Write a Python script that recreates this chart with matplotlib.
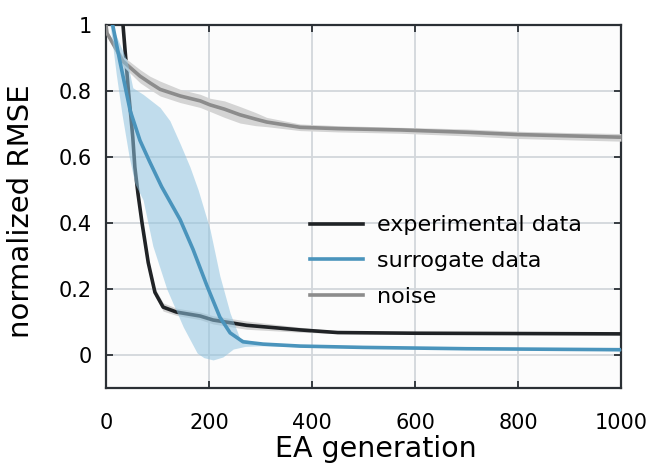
import numpy as np
import matplotlib
matplotlib.use('Agg')
from matplotlib import pyplot as plt

# experimental data (black line + grey spread)
gen_exp  = [25, 33, 43, 52, 56, 62, 70, 82, 95, 111, 137, 183, 208, 273, 377, 450, 600, 800, 1000]
rmse_exp = [1.2, 1.0, 0.81, 0.66, 0.57, 0.49, 0.4, 0.28, 0.19, 0.145, 0.13, 0.118, 0.106, 0.09, 0.076, 0.068, 0.066, 0.065, 0.064]
exp_lo   = [1.19, 0.99, 0.80, 0.65, 0.56, 0.48, 0.39, 0.27, 0.178, 0.133, 0.12, 0.107, 0.094, 0.078, 0.069, 0.065, 0.064, 0.063, 0.062]
exp_hi   = [1.21, 1.01, 0.82, 0.67, 0.58, 0.50, 0.41, 0.29, 0.202, 0.158, 0.142, 0.13, 0.119, 0.103, 0.084, 0.072, 0.068, 0.067, 0.066]

# surrogate data (blue line)
gen_sur  = [5, 13, 27, 47, 66, 85, 108, 144, 169, 196, 221, 241, 266, 305, 377, 500, 700, 1000]
rmse_sur = [1.15, 1.0, 0.89, 0.74, 0.65, 0.585, 0.51, 0.41, 0.32, 0.21, 0.115, 0.067, 0.04, 0.033, 0.027, 0.023, 0.019, 0.016]

# surrogate spread (light blue band)
gen_band_hi = [0, 11, 41, 52, 72, 105, 124, 144, 163, 179, 202, 221, 241, 260, 300, 400, 600, 1000]
sur_hi      = [1.15, 1.0, 0.89, 0.81, 0.79, 0.75, 0.71, 0.64, 0.57, 0.5, 0.38, 0.24, 0.127, 0.05, 0.036, 0.03, 0.025, 0.019]
gen_band_lo = [0, 8, 20, 31, 45, 56, 72, 91, 118, 150, 177, 190, 208, 227, 247, 270, 300, 400, 600, 1000]
sur_lo      = [1.1, 1.0, 0.85, 0.73, 0.6, 0.52, 0.47, 0.33, 0.2, 0.085, 0.006, -0.008, -0.015, -0.006, 0.018, 0.026, 0.028, 0.024, 0.02, 0.013]

# noise (grey line + spread)
gen_noise  = [0, 2, 33, 66, 85, 105, 144, 183, 202, 230, 260, 290, 312, 377, 450, 571, 700, 800, 900, 1000]
rmse_noise = [1.0, 0.975, 0.89, 0.845, 0.825, 0.805, 0.785, 0.77, 0.758, 0.745, 0.728, 0.715, 0.706, 0.69, 0.686, 0.682, 0.675, 0.668, 0.664, 0.66]
noise_lo   = [0.995, 0.968, 0.875, 0.825, 0.805, 0.785, 0.765, 0.75, 0.738, 0.72, 0.703, 0.695, 0.692, 0.68, 0.676, 0.672, 0.664, 0.656, 0.652, 0.648]
noise_hi   = [1.005, 0.982, 0.905, 0.865, 0.845, 0.83, 0.805, 0.79, 0.778, 0.77, 0.753, 0.735, 0.72, 0.70, 0.695, 0.69, 0.685, 0.678, 0.674, 0.671]

xticks = [0, 200, 400, 600, 800, 1000]
yticks = [0, 0.2, 0.4, 0.6, 0.8, 1]
ytick_labels = ['0', '0.2', '0.4', '0.6', '0.8', '1']

c_exp = '#202326'
c_sur = '#4a94bc'
c_noise = '#8c8c8c'
c_frame = '#2b3035'

fig = plt.figure(figsize=(6.51, 4.69), dpi=100)
ax = fig.add_axes([106/651, 81/469, 515/651, 363/469])
ax.set_facecolor('#fcfcfc')

ax.fill_between(gen_exp, exp_lo, exp_hi, color='#d4d4d4', lw=0, zorder=2)
ax.plot(gen_exp, rmse_exp, color=c_exp, lw=2.6, label='experimental data', zorder=3)
ax.fill_between(gen_noise, noise_lo, noise_hi, color='#d4d4d4', lw=0, zorder=4)
ax.plot(gen_noise, rmse_noise, color=c_noise, lw=2.6, label='noise', zorder=5)
# band edges are read at different generations, so merge both edges on one grid
g_all = np.union1d(gen_band_lo, gen_band_hi)
ax.fill_between(g_all, np.interp(g_all, gen_band_lo, sur_lo), np.interp(g_all, gen_band_hi, sur_hi),
                color='#8fc3df', alpha=0.55, lw=0, zorder=6)
ax.plot(gen_sur, rmse_sur, color=c_sur, lw=2.6, label='surrogate data', zorder=7)

ax.set_xlim(0, 1000)
ax.set_ylim(-0.1, 1)
ax.set_xticks(xticks)
ax.set_yticks(yticks)
ax.set_yticklabels(ytick_labels)
ax.grid(True, color='#d3d7db', lw=1.3, zorder=1)
ax.set_axisbelow(True)
ax.tick_params(direction='in', top=True, right=True, length=5, width=1.3,
               colors=c_frame, labelcolor='black', labelsize=15)
ax.tick_params(axis='x', pad=18)
ax.tick_params(axis='y', pad=10)
for s in ax.spines.values():
    s.set_color(c_frame)
    s.set_linewidth(1.6)

ax.set_xlabel('EA generation', fontsize=20.5)
ax.xaxis.set_label_coords(0.524, -0.13)
ax.set_ylabel('normalized RMSE', fontsize=21)
ax.yaxis.set_label_coords(-0.138, 0.488)

h, l = ax.get_legend_handles_labels()
order = [0, 2, 1]
ax.legend([h[i] for i in order], [l[i] for i in order], loc='center left',
          bbox_to_anchor=(0.396, 0.35), frameon=False, fontsize=16,
          handlelength=2.4, labelspacing=0.7, handletextpad=0.63,
          borderpad=0, borderaxespad=0)

plt.savefig('out.png', dpi=100)
